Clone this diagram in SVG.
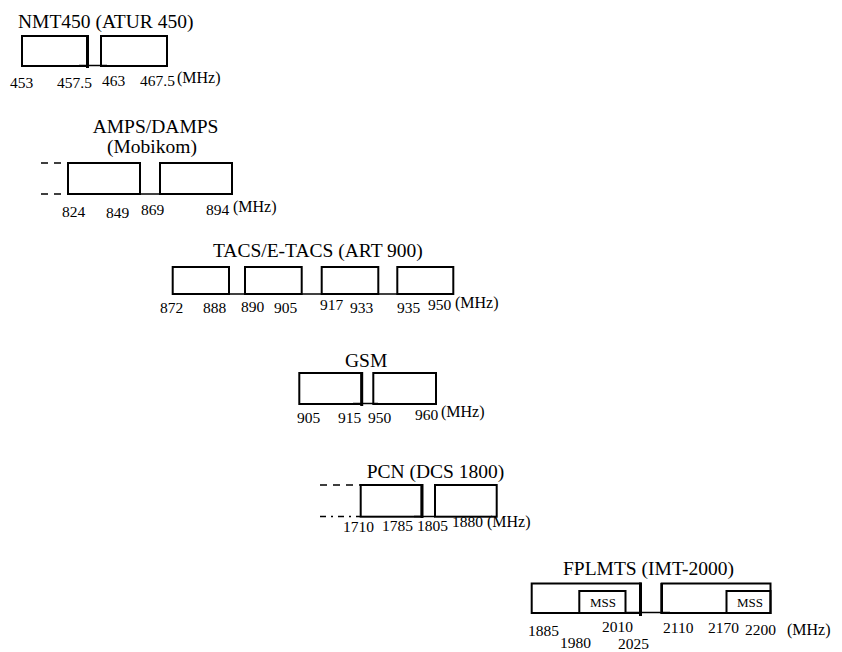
<svg xmlns="http://www.w3.org/2000/svg" width="842" height="652" viewBox="0 0 842 652">
<style>
text{font-family:"Liberation Serif","Times New Roman",serif;fill:#000}
.t{font-size:19.5px}
.l{font-size:15.5px}
.u{font-size:16px}
.m{font-size:13px}
.b{fill:none;stroke:#000;stroke-width:2}
.k{stroke:#000;stroke-width:3}
.c{stroke:#000;stroke-width:1.5}
.d{stroke:#000;stroke-width:1.3;stroke-dasharray:7 6}
</style>
<rect width="842" height="652" fill="#fff"/>
<g id="nmt450">
<text class="t" x="18" y="27.5">NMT450 (ATUR 450)</text>
<rect class="b" x="22" y="36" width="65.5" height="30"/>
<line class="k" x1="87.5" y1="35" x2="87.5" y2="68"/>
<rect class="b" x="101" y="36" width="66" height="30"/>
<text class="l" x="10" y="88">453</text>
<text class="l" x="57" y="88">457.5</text>
<text class="l" x="102" y="86">463</text>
<text class="l" x="140" y="86">467.5</text>
<text class="u" x="177" y="83">(MHz)</text>
</g>
<g id="amps">
<text class="t" x="92.7" y="133">AMPS/DAMPS</text>
<text class="t" x="107" y="153">(Mobikom)</text>
<line class="d" x1="41" y1="163" x2="63" y2="163"/>
<line class="d" x1="41" y1="194" x2="63" y2="194"/>
<rect class="b" x="68" y="163" width="72" height="31"/>
<rect class="b" x="160" y="163" width="72" height="31"/>
<text class="l" x="62" y="217">824</text>
<text class="l" x="106" y="218">849</text>
<text class="l" x="141" y="215">869</text>
<text class="l" x="206" y="215">894</text>
<text class="u" x="233" y="212">(MHz)</text>
</g>
<g id="tacs">
<text class="t" x="213" y="257">TACS/E-TACS (ART 900)</text>
<rect class="b" x="172.7" y="267" width="56.3" height="27"/>
<rect class="b" x="245" y="267" width="56.7" height="27"/>
<rect class="b" x="321.7" y="267" width="56.6" height="27"/>
<rect class="b" x="397.3" y="267" width="56" height="27"/>
<text class="l" x="160" y="313">872</text>
<text class="l" x="203" y="313">888</text>
<text class="l" x="241" y="312">890</text>
<text class="l" x="274" y="313">905</text>
<text class="l" x="320" y="310">917</text>
<text class="l" x="350" y="313">933</text>
<text class="l" x="397" y="313">935</text>
<text class="l" x="428" y="310">950</text>
<text class="u" x="455" y="308">(MHz)</text>
</g>
<g id="gsm">
<text class="t" x="345" y="367">GSM</text>
<rect class="b" x="299.3" y="373" width="62.4" height="31"/>
<line class="k" x1="361.7" y1="372" x2="361.7" y2="406"/>
<rect class="b" x="373.3" y="373" width="62.7" height="31"/>
<text class="l" x="297" y="423">905</text>
<text class="l" x="338" y="423">915</text>
<text class="l" x="368" y="423">950</text>
<text class="l" x="415" y="420">960</text>
<text class="u" x="441" y="417">(MHz)</text>
</g>
<g id="pcn">
<text class="t" x="366.7" y="478">PCN (DCS 1800)</text>
<line class="d" x1="320" y1="485" x2="360" y2="485"/>
<line class="d" x1="320" y1="516.5" x2="360" y2="516.5" style="stroke-dasharray:6 5 2 5"/>
<rect class="b" x="360.7" y="485" width="61" height="31.7"/>
<line class="k" x1="422" y1="484" x2="422" y2="518"/>
<rect class="b" x="435" y="485" width="61.7" height="31.7"/>
<text class="l" x="343" y="532">1710</text>
<text class="l" x="382" y="531">1785</text>
<text class="l" x="417" y="531">1805</text>
<text class="l" x="452" y="527">1880</text>
<text class="u" x="487" y="527">(MHz)</text>
</g>
<g id="fplmts">
<text class="t" x="563" y="575">FPLMTS (IMT-2000)</text>
<rect class="b" x="531.7" y="583.5" width="108.8" height="29.5"/>
<line class="k" x1="640.5" y1="582.5" x2="640.5" y2="616"/>
<rect class="b" x="579.3" y="591" width="46.2" height="22"/>
<text class="m" x="590" y="607">MSS</text>
<rect class="b" x="661.7" y="583.5" width="108.8" height="29.5"/>
<line class="c" x1="661.7" y1="583" x2="661.7" y2="614" style="stroke-width:2.6"/>
<rect class="b" x="726.5" y="591" width="44" height="22"/>
<text class="m" x="737" y="607">MSS</text>
<text class="l" x="528" y="636">1885</text>
<text class="l" x="602" y="632">2010</text>
<text class="l" x="560" y="648">1980</text>
<text class="l" x="618" y="649">2025</text>
<text class="l" x="663" y="633">2110</text>
<text class="l" x="708" y="633">2170</text>
<text class="l" x="745" y="635">2200</text>
<text class="u" x="787" y="635">(MHz)</text>
</g>
<g id="connectors">
<line class="c" x1="79" y1="65.5" x2="107" y2="65.5"/>
<line class="c" x1="140" y1="194" x2="160" y2="194"/>
<line class="c" x1="229" y1="294" x2="245" y2="294"/>
<line class="c" x1="301.7" y1="294" x2="321.7" y2="294"/>
<line class="c" x1="378.3" y1="294" x2="397.3" y2="294"/>
<line class="c" x1="353" y1="403.5" x2="378" y2="403.5"/>
<line class="c" x1="414" y1="516.5" x2="435" y2="516.5"/>
<line class="c" x1="626" y1="612.5" x2="670" y2="612.5"/>
</g>
</svg>
